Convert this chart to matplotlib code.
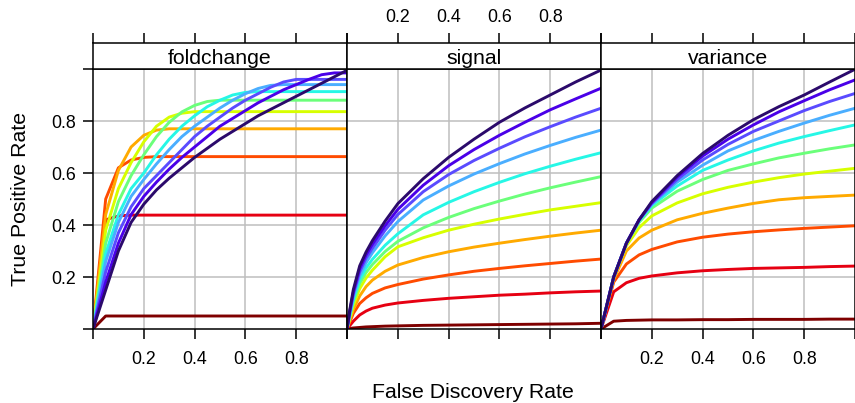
import matplotlib
matplotlib.use('Agg')
import matplotlib.pyplot as plt

plt.rcParams['font.family'] = ['Liberation Sans', 'DejaVu Sans']

panel_names = ['foldchange', 'signal', 'variance']
x_label = 'False Discovery Rate'
y_label = 'True Positive Rate'
tick_values = [0.0, 0.2, 0.4, 0.6, 0.8, 1.0]
tick_labels = ['', '0.2', '0.4', '0.6', '0.8', '']

series_colors = ['#7F0000', '#E60012', '#FF4B00', '#FFAA00', '#D7FF00', '#6BFF7A',
                 '#26F7E6', '#4AAEFF', '#5A4BFF', '#4A00E8', '#2B0A6B']

# ---- foldchange panel ----
fdr_foldchange = [0, 0.05, 0.1, 0.15, 0.2, 0.25, 0.3, 0.35, 0.4, 0.45, 0.5,
                  0.55, 0.6, 0.65, 0.7, 0.75, 0.8, 0.85, 0.9, 0.95, 1.0]
tpr_foldchange = [
    [0, 0.05, 0.05, 0.05, 0.05, 0.05, 0.05, 0.05, 0.05, 0.05, 0.05, 0.05, 0.05, 0.05, 0.05, 0.05, 0.05, 0.05, 0.05, 0.05, 0.05],
    [0, 0.42, 0.435, 0.438, 0.438, 0.438, 0.438, 0.438, 0.438, 0.438, 0.438, 0.438, 0.438, 0.438, 0.438, 0.438, 0.438, 0.438, 0.438, 0.438, 0.438],
    [0, 0.50, 0.62, 0.65, 0.66, 0.663, 0.663, 0.663, 0.663, 0.663, 0.663, 0.663, 0.663, 0.663, 0.663, 0.663, 0.663, 0.663, 0.663, 0.663, 0.663],
    [0, 0.44, 0.61, 0.70, 0.745, 0.765, 0.77, 0.77, 0.77, 0.77, 0.77, 0.77, 0.77, 0.77, 0.77, 0.77, 0.77, 0.77, 0.77, 0.77, 0.77],
    [0, 0.38, 0.54, 0.64, 0.72, 0.78, 0.815, 0.83, 0.836, 0.836, 0.836, 0.836, 0.836, 0.836, 0.836, 0.836, 0.836, 0.836, 0.836, 0.836, 0.836],
    [0, 0.33, 0.49, 0.59, 0.67, 0.74, 0.795, 0.835, 0.86, 0.875, 0.88, 0.88, 0.88, 0.88, 0.88, 0.88, 0.88, 0.88, 0.88, 0.88, 0.88],
    [0, 0.29, 0.44, 0.54, 0.60, 0.67, 0.73, 0.78, 0.82, 0.855, 0.88, 0.90, 0.91, 0.913, 0.913, 0.913, 0.913, 0.913, 0.913, 0.913, 0.913],
    [0, 0.26, 0.41, 0.51, 0.575, 0.635, 0.69, 0.74, 0.78, 0.815, 0.85, 0.88, 0.905, 0.925, 0.937, 0.94, 0.94, 0.94, 0.94, 0.94, 0.94],
    [0, 0.22, 0.37, 0.47, 0.54, 0.59, 0.64, 0.69, 0.74, 0.78, 0.815, 0.85, 0.88, 0.905, 0.93, 0.95, 0.96, 0.96, 0.96, 0.96, 0.96],
    [0, 0.18, 0.33, 0.44, 0.51, 0.565, 0.615, 0.66, 0.70, 0.74, 0.78, 0.81, 0.84, 0.87, 0.895, 0.92, 0.94, 0.96, 0.978, 0.985, 0.985],
    [0, 0.15, 0.30, 0.41, 0.48, 0.535, 0.58, 0.62, 0.66, 0.695, 0.73, 0.76, 0.79, 0.82, 0.845, 0.87, 0.895, 0.92, 0.945, 0.97, 0.995],
]

# ---- signal panel ----
fdr_signal = [0, 0.01, 0.025, 0.05, 0.075, 0.1, 0.15, 0.2, 0.3, 0.4, 0.5, 0.6, 0.7, 0.8, 0.9, 1.0]
tpr_signal = [
    [0, 0.002, 0.004, 0.006, 0.008, 0.009, 0.011, 0.012, 0.014, 0.015, 0.016, 0.017, 0.018, 0.019, 0.020, 0.022],
    [0, 0.012, 0.03, 0.054, 0.069, 0.08, 0.092, 0.10, 0.11, 0.118, 0.124, 0.13, 0.134, 0.139, 0.143, 0.146],
    [0, 0.025, 0.06, 0.098, 0.12, 0.137, 0.158, 0.171, 0.192, 0.208, 0.222, 0.233, 0.243, 0.252, 0.261, 0.269],
    [0, 0.03, 0.075, 0.127, 0.163, 0.188, 0.222, 0.246, 0.275, 0.297, 0.315, 0.33, 0.344, 0.357, 0.369, 0.38],
    [0, 0.038, 0.092, 0.155, 0.196, 0.226, 0.278, 0.316, 0.351, 0.38, 0.403, 0.423, 0.441, 0.458, 0.472, 0.486],
    [0, 0.043, 0.105, 0.175, 0.217, 0.248, 0.298, 0.337, 0.389, 0.429, 0.463, 0.492, 0.519, 0.543, 0.565, 0.586],
    [0, 0.048, 0.115, 0.19, 0.235, 0.268, 0.322, 0.366, 0.439, 0.487, 0.528, 0.564, 0.597, 0.626, 0.653, 0.678],
    [0, 0.053, 0.125, 0.205, 0.255, 0.293, 0.358, 0.413, 0.496, 0.55, 0.596, 0.636, 0.673, 0.706, 0.737, 0.765],
    [0, 0.058, 0.135, 0.22, 0.272, 0.31, 0.38, 0.44, 0.528, 0.594, 0.648, 0.695, 0.739, 0.778, 0.815, 0.849],
    [0, 0.063, 0.142, 0.232, 0.285, 0.326, 0.397, 0.46, 0.553, 0.628, 0.69, 0.745, 0.795, 0.843, 0.885, 0.926],
    [0, 0.068, 0.152, 0.243, 0.296, 0.34, 0.415, 0.482, 0.578, 0.66, 0.73, 0.795, 0.85, 0.90, 0.95, 0.996],
]

# ---- variance panel ----
fdr_variance = [0, 0.05, 0.1, 0.15, 0.2, 0.3, 0.4, 0.5, 0.6, 0.7, 0.8, 0.9, 1.0]
tpr_variance = [
    [0, 0.03, 0.033, 0.034, 0.035, 0.035, 0.036, 0.036, 0.037, 0.037, 0.037, 0.038, 0.038],
    [0, 0.143, 0.178, 0.195, 0.204, 0.216, 0.224, 0.229, 0.233, 0.235, 0.237, 0.24, 0.242],
    [0, 0.18, 0.25, 0.285, 0.306, 0.335, 0.353, 0.365, 0.374, 0.381, 0.387, 0.392, 0.397],
    [0, 0.19, 0.30, 0.35, 0.38, 0.42, 0.445, 0.465, 0.483, 0.497, 0.505, 0.51, 0.515],
    [0, 0.20, 0.32, 0.39, 0.435, 0.485, 0.52, 0.545, 0.565, 0.582, 0.596, 0.607, 0.618],
    [0, 0.20, 0.33, 0.41, 0.465, 0.53, 0.575, 0.61, 0.635, 0.658, 0.676, 0.693, 0.708],
    [0, 0.20, 0.33, 0.415, 0.475, 0.55, 0.61, 0.65, 0.685, 0.715, 0.74, 0.763, 0.785],
    [0, 0.20, 0.33, 0.418, 0.48, 0.565, 0.63, 0.685, 0.725, 0.76, 0.792, 0.822, 0.849],
    [0, 0.20, 0.33, 0.42, 0.483, 0.575, 0.65, 0.71, 0.76, 0.80, 0.84, 0.875, 0.906],
    [0, 0.20, 0.33, 0.42, 0.486, 0.585, 0.665, 0.73, 0.785, 0.835, 0.878, 0.92, 0.958],
    [0, 0.20, 0.33, 0.42, 0.49, 0.59, 0.675, 0.745, 0.805, 0.855, 0.90, 0.95, 0.999],
]

panel_fdr = [fdr_foldchange, fdr_signal, fdr_variance]
panel_tpr = [tpr_foldchange, tpr_signal, tpr_variance]

W, H = 855, 403
fig = plt.figure(figsize=(W / 100, H / 100), dpi=100)


def fx(px):
    return px / W


def fy(py):
    return 1 - py / H


panel_left = [93, 347, 601]
pw = 254
p_top, p_bot = 69, 329
s_top = 43
grid_color = '#BEBEBE'
tick_fs = 12.8
lab_fs = 15.3

for i, name in enumerate(panel_names):
    L = panel_left[i]
    ax = fig.add_axes([fx(L), fy(p_bot), pw / W, (p_bot - p_top) / H])
    ax.set_xlim(0, 1)
    ax.set_ylim(0, 1)
    for v in [0.2, 0.4, 0.6, 0.8]:
        ax.axvline(v, color=grid_color, lw=1.1, zorder=0)
        ax.axhline(v, color=grid_color, lw=1.1, zorder=0)
    for k, ys in enumerate(panel_tpr[i]):
        ax.plot(panel_fdr[i], ys, color=series_colors[k], lw=2.1,
                solid_joinstyle='round', solid_capstyle='round', zorder=2 + k * 0.01)
    for sp in ax.spines.values():
        sp.set_linewidth(1.1)
        sp.set_color('black')
    ax.set_xticks(tick_values)
    if i == 1:
        ax.set_xticklabels(['' for _ in tick_values])
    else:
        ax.set_xticklabels(tick_labels)
    ax.tick_params(axis='x', direction='out', length=7.5, width=1.1,
                   labelsize=tick_fs, pad=8, top=False)
    if i == 0:
        ax.set_yticks(tick_values)
        ax.set_yticklabels(tick_labels)
        ax.tick_params(axis='y', direction='out', length=7.5, width=1.1,
                       labelsize=tick_fs, pad=5, right=False)
    else:
        ax.set_yticks([])
        ax.tick_params(axis='y', left=False, right=False)

    sax = fig.add_axes([fx(L), fy(p_top), pw / W, (p_top - s_top) / H])
    sax.set_xlim(0, 1)
    sax.set_ylim(0, 1)
    sax.set_yticks([])
    sax.xaxis.tick_top()
    sax.set_xticks(tick_values)
    if i == 1:
        sax.set_xticklabels(tick_labels)
    else:
        sax.set_xticklabels(['' for _ in tick_values])
    sax.tick_params(axis='x', direction='out', length=7.5, width=1.1,
                    labelsize=tick_fs, pad=5, bottom=False, top=True)
    for sp in sax.spines.values():
        sp.set_linewidth(1.1)
        sp.set_color('black')
    sax.text(0.5, 0.19, name, ha='center', va='baseline', fontsize=lab_fs,
             transform=sax.transAxes)

fig.text(fx(473), fy(398), x_label, ha='center', va='baseline', fontsize=lab_fs)
fig.text(fx(20.5), fy(199), y_label, ha='center', va='center', rotation=90, fontsize=lab_fs)

fig.savefig('out.png', dpi=100)
